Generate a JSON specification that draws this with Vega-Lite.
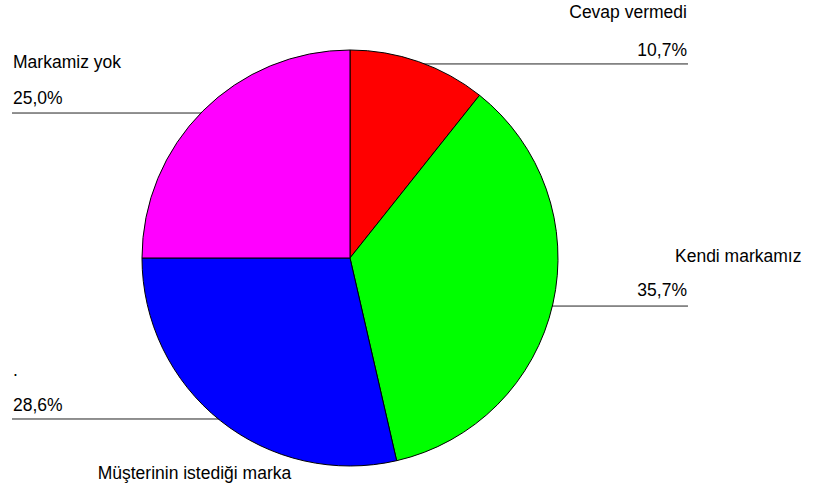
{
  "$schema": "https://vega.github.io/schema/vega-lite/v6.json",
  "width": 813,
  "height": 490,
  "autosize": "none",
  "padding": 0,
  "background": "white",
  "config": {
    "view": {"stroke": null},
    "text": {"font": "Liberation Sans", "fontSize": 17.5, "color": "black", "baseline": "middle"}
  },
  "datasets": {
    "slices": [
      {"category": "Cevap vermedi", "share": 10.7, "ord": 1},
      {"category": "Kendi markamız", "share": 35.7, "ord": 2},
      {"category": "Müşterinin istediği marka", "share": 28.6, "ord": 3},
      {"category": "Markamiz yok", "share": 25.0, "ord": 4}
    ],
    "leaders": [
      {"category": "Cevap vermedi", "x1": 0.3, "x2": 1.625, "y": 0.933},
      {"category": "Markamiz yok", "x1": -1.625, "x2": -0.6, "y": 0.697},
      {"category": "Kendi markamız", "x1": 0.8, "x2": 1.625, "y": -0.231},
      {"category": ".", "x1": -1.625, "x2": -0.5, "y": -0.774}
    ],
    "labelsRight": [
      {"text": "Cevap vermedi", "x": 1.62, "y": 1.178},
      {"text": "10,7%", "x": 1.62, "y": 0.995},
      {"text": "35,7%", "x": 1.62, "y": -0.159}
    ],
    "labelsLeft": [
      {"text": "Markamiz yok", "x": -1.62, "y": 0.9375},
      {"text": "25,0%", "x": -1.62, "y": 0.764},
      {"text": "Kendi markamız", "x": 1.5625, "y": 0.005},
      {"text": ".", "x": -1.62, "y": -0.543},
      {"text": "28,6%", "x": -1.62, "y": -0.712}
    ],
    "labelsCenter": [
      {"text": "Müşterinin istediği marka", "x": -0.748, "y": -1.038}
    ]
  },
  "layer": [
    {
      "data": {"name": "leaders"},
      "mark": {"type": "rule", "color": "#222222", "strokeWidth": 1},
      "encoding": {
        "x": {"field": "x1", "type": "quantitative", "scale": {"domain": [-1.6827, 2.226], "nice": false, "zero": false}, "axis": null},
        "x2": {"field": "x2"},
        "y": {"field": "y", "type": "quantitative", "scale": {"domain": [-1.1154, 1.2404], "nice": false, "zero": false}, "axis": null}
      }
    },
    {
      "data": {"name": "slices"},
      "mark": {"type": "arc", "outerRadius": 208, "stroke": "black", "strokeWidth": 1},
      "encoding": {
        "x": {"datum": 0, "type": "quantitative"},
        "y": {"datum": 0, "type": "quantitative"},
        "theta": {"field": "share", "type": "quantitative", "stack": true},
        "order": {"field": "ord", "type": "quantitative"},
        "color": {
          "field": "category",
          "type": "nominal",
          "scale": {
            "domain": ["Cevap vermedi", "Kendi markamız", "Müşterinin istediği marka", "Markamiz yok"],
            "range": ["#FF0000", "#00FF00", "#0000FF", "#FF00FF"]
          },
          "legend": null
        }
      }
    },
    {
      "data": {"name": "labelsRight"},
      "mark": {"type": "text", "align": "right"},
      "encoding": {
        "x": {"field": "x", "type": "quantitative"},
        "y": {"field": "y", "type": "quantitative"},
        "text": {"field": "text"}
      }
    },
    {
      "data": {"name": "labelsLeft"},
      "mark": {"type": "text", "align": "left"},
      "encoding": {
        "x": {"field": "x", "type": "quantitative"},
        "y": {"field": "y", "type": "quantitative"},
        "text": {"field": "text"}
      }
    },
    {
      "data": {"name": "labelsCenter"},
      "mark": {"type": "text", "align": "center"},
      "encoding": {
        "x": {"field": "x", "type": "quantitative"},
        "y": {"field": "y", "type": "quantitative"},
        "text": {"field": "text"}
      }
    }
  ]
}
